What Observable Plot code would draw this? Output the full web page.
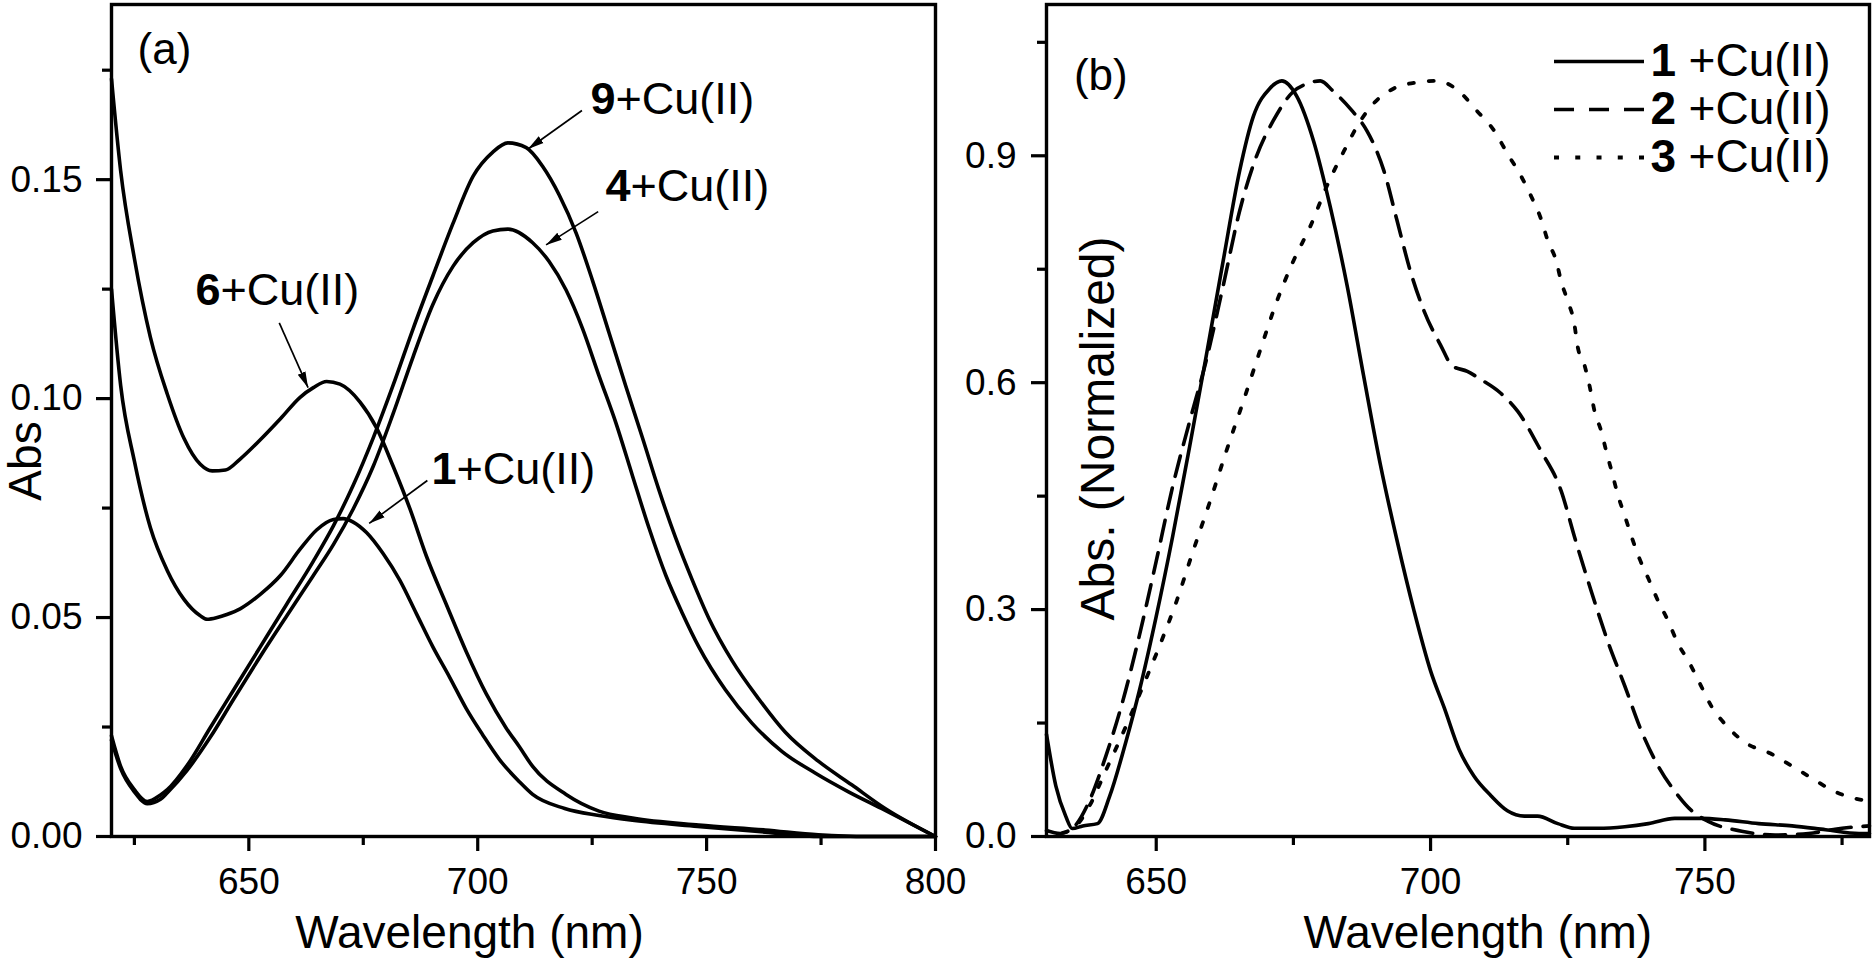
<!DOCTYPE html>
<html><head><meta charset="utf-8">
<script src="https://cdn.jsdelivr.net/npm/d3@7"></script>
<script src="https://cdn.jsdelivr.net/npm/@observablehq/plot@0.6"></script>
<style>
html,body{margin:0;padding:0;background:#fff;}
#wrap{position:relative;width:1875px;height:959px;overflow:hidden;background:#fff;}
#wrap svg{position:absolute;top:0;}
</style></head><body><div id="wrap"></div>
<script>
// ---------- Panel (a): Abs vs wavelength ----------
const wl6  = [620,622,625,628.5,632.2,635.8,639.4,642,644.9,648.1,652.5,656.9,661.2,664.1,667,669.9,674.3,677.9,681.5,685.2,688.8,693.1,697.5,701.9,706.2,709.1,712,719.3,726.5,733.8,748.3,762.8,774.4,785,800];
const abs6 = [0.173,0.152,0.132,0.114,0.101,0.091,0.085,0.0835,0.0837,0.0862,0.0906,0.0954,0.1003,0.1025,0.1039,0.1033,0.0992,0.0933,0.0846,0.0748,0.064,0.0531,0.0422,0.0325,0.0248,0.0205,0.016,0.0096,0.0058,0.0042,0.0026,0.0015,0.0004,0,0];
const wl1  = [620,622,625,628.5,632.2,635.8,639.4,640.9,643.1,645.2,648.1,652.5,656.9,661.2,664.8,668.5,670.6,672.8,675.7,679.4,683,686.6,690.2,693.9,697.5,701.1,704.8,709.1,712,719,726.5,733.8,748,762.8,775,800];
const abs1 = [0.125,0.103,0.0857,0.0705,0.0607,0.0542,0.0504,0.0496,0.05,0.0507,0.052,0.0553,0.0596,0.0656,0.07,0.0724,0.0726,0.0718,0.0694,0.0645,0.0585,0.0509,0.0433,0.0363,0.0292,0.0232,0.0175,0.0125,0.0096,0.0064,0.0048,0.0037,0.0023,0.001,0,0];
const wl9  = [620,622,625,627.8,630.7,632.2,636.5,641.6,646.7,652.5,658.3,664.1,668.5,672.8,677.2,681.5,685.9,690.2,694.6,699,703.3,706.6,710.6,714.2,717.8,721.5,725.1,728.7,732.3,736,739.6,743.2,746.9,750.5,755.6,761.4,767.2,774.4,781.7,789,800];
const abs9 = [0.023,0.016,0.0107,0.008,0.0095,0.0107,0.0162,0.0249,0.0335,0.0433,0.0531,0.0629,0.071,0.0802,0.0911,0.103,0.116,0.128,0.14,0.1508,0.1563,0.1584,0.1573,0.153,0.1465,0.1378,0.1269,0.115,0.103,0.091,0.0791,0.0683,0.0585,0.0498,0.0401,0.0314,0.0238,0.0172,0.0118,0.0064,0];
const wl4  = [620,622,625,627.8,630.7,632.2,636.5,641.6,646.7,652.5,658.3,664.1,668.5,672.8,677.2,681.5,685.9,690.2,694.6,699,703.3,706.6,712,715.6,719.3,722.9,726.5,730.2,733.8,737.4,741.1,744.7,748.3,754.1,759.9,766.5,773.7,781,788.2,800];
const abs4 = [0.022,0.0155,0.0102,0.0075,0.0085,0.01,0.0151,0.0227,0.0314,0.0411,0.0504,0.0596,0.0667,0.0748,0.0846,0.0965,0.1096,0.1215,0.1302,0.1356,0.1383,0.1387,0.1356,0.1313,0.1248,0.116,0.1052,0.0944,0.0824,0.0705,0.0596,0.051,0.0433,0.0335,0.0259,0.0194,0.0145,0.0102,0.0064,0];

// ---------- Panel (b): normalized Abs ----------
const wlS1  = [630,631.7,633.5,634.7,636.6,639.3,641.5,644.5,646.9,650,653,656.1,659.1,662.2,665.2,667.7,670.7,672.9,675.6,678.7,681.7,684.8,687.8,690.9,693.9,697,700,702.5,705.2,707.9,711,714,717.1,719.5,723.2,726.2,730.5,735.4,739.7,744.5,749.4,753.7,759.8,765.9,772,778.1,780];
const absS1 = [0.135,0.067,0.027,0.0105,0.014,0.017,0.053,0.126,0.192,0.291,0.397,0.516,0.635,0.761,0.88,0.952,0.989,0.999,0.979,0.919,0.833,0.728,0.609,0.49,0.391,0.298,0.219,0.17,0.115,0.08,0.054,0.034,0.027,0.027,0.017,0.011,0.011,0.013,0.017,0.024,0.024,0.022,0.017,0.014,0.009,0.004,0.004];
const wlS2  = [630,632.5,634.7,637.8,640.8,643.9,646.9,650,653,656.1,659.1,662.2,665.2,668.3,671.3,675,677.4,679.9,682.3,685.4,688.4,689.6,691.5,693.9,696.3,698.8,701.8,704,706.7,709,712.8,715.9,720.1,723.8,726.2,729.3,732.3,735.4,738.4,741.5,744.5,747.6,750.6,756.7,762.8,768.9,775,780];
const absS2 = [0.008,0.004,0.0105,0.047,0.106,0.179,0.265,0.364,0.463,0.549,0.629,0.728,0.827,0.9,0.946,0.985,0.995,0.999,0.985,0.962,0.933,0.916,0.88,0.814,0.748,0.695,0.65,0.622,0.615,0.605,0.586,0.562,0.51,0.457,0.397,0.324,0.258,0.199,0.14,0.093,0.06,0.034,0.02,0.007,0.002,0.004,0.011,0.014];
const wlS3  = [633,635.4,637.8,640.8,644.5,647.6,650.6,653.7,656.7,659.8,662.8,665.9,668.9,672,675,678.1,681.1,684.2,687.2,689.6,693.3,697.6,701.2,704.9,708.5,711.6,714,716.5,718.3,720.1,721.4,722.9,723.8,725,726.2,726.8,728.1,729,729.9,731.1,732,733,734.2,735.4,736.6,738.1,739.7,741.5,743.3,745.1,747,749.1,751.2,754,757.6,761.9,765.9,769.5,773.5,777.5,780];
const absS3 = [0.005,0.014,0.04,0.087,0.146,0.199,0.252,0.311,0.377,0.443,0.51,0.576,0.642,0.708,0.761,0.807,0.86,0.906,0.946,0.969,0.989,0.997,0.999,0.987,0.959,0.933,0.903,0.873,0.847,0.817,0.787,0.761,0.734,0.708,0.678,0.648,0.622,0.595,0.562,0.536,0.51,0.483,0.45,0.424,0.397,0.367,0.341,0.311,0.285,0.255,0.232,0.202,0.172,0.146,0.123,0.11,0.093,0.077,0.06,0.05,0.047];

// ---------- ticks & labels ----------
const ticksXa = [650, 700, 750, 800];
const minorXa = [625, 675, 725, 775];
const ticksYa = [0, 0.05, 0.10, 0.15];
const minorYa = [0.025, 0.075, 0.125, 0.175];
const ticksXb = [650, 700, 750];
const minorXb = [675, 725, 775];
const ticksYb = [0, 0.3, 0.6, 0.9];
const minorYb = [0.15, 0.45, 0.75, 1.05];
const annoNums = ["6", "1", "9", "4"];
const annoRest = "+Cu(II)";
const legendNums = ["1", "2", "3"];
const legendRest = "+Cu(II)";
const xTitle = "Wavelength (nm)";
const yTitleA = "Abs";
const yTitleB = "Abs. (Normalized)";

// ---------- layout / placement / styles (not data) ----------
const FONT = "'Liberation Sans', Arial, Helvetica, sans-serif";
const LW = 3.6;
const DASH = "21,12", DOT = "5,15";
const annoPos = [
  {x: 638.35, y: 0.1213, ax1: 656.65, ay1: 0.1173, ax2: 662.94, ay2: 0.1025},
  {x: 689.9,  y: 0.0804, ax1: 689.0,  ay1: 0.0813, ax2: 676.29, ay2: 0.0715},
  {x: 724.63, y: 0.1651, ax1: 722.77, ay1: 0.1658, ax2: 711.0,  ay2: 0.1570},
  {x: 727.91, y: 0.1452, ax1: 726.31, ay1: 0.1427, ax2: 714.93, ay2: 0.1351}
];
const legendPos = [1.0246, 0.9611, 0.8977];

function arrowHead(color, context) {
  const m = d3.select(context.document.createElementNS("http://www.w3.org/2000/svg", "marker"))
    .attr("viewBox", "-16 -5 16 10")
    .attr("markerWidth", 16).attr("markerHeight", 10)
    .attr("markerUnits", "userSpaceOnUse")
    .attr("orient", "auto").attr("refX", 0).attr("refY", 0);
  m.append("path").attr("d", "M-16,-4.2L0,0L-16,4.2Z").attr("fill", color).attr("stroke", "none");
  return m.node();
}

function zipXY(xs, ys) { return xs.map((x, i) => ({x, y: ys[i]})); }

const common = {
  height: 959, marginTop: 4, marginBottom: 123,
  style: {fontFamily: FONT, background: "transparent", overflow: "visible", color: "black"}
};
const lineOpts = {x: "x", y: "y", stroke: "black", strokeWidth: LW, curve: "monotone-x"};

// ---------- Panel a ----------
const annoA = annoPos.map((p, i) => ({...p, n: annoNums[i]}));
const plotA = Plot.plot({
  ...common,
  width: 940, marginLeft: 111, marginRight: 5,
  x: {domain: [620, 800], axis: null},
  y: {domain: [0, 0.19], axis: null},
  marks: [
    Plot.line(zipXY(wl6, abs6), lineOpts),
    Plot.line(zipXY(wl1, abs1), lineOpts),
    Plot.line(zipXY(wl9, abs9), lineOpts),
    Plot.line(zipXY(wl4, abs4), lineOpts),
    Plot.axisX({ticks: minorXa, tickSize: 9, fill: "none", strokeWidth: 3.2, label: null}),
    Plot.axisY({ticks: minorYa, tickSize: 9, fill: "none", strokeWidth: 3.2, label: null}),
    Plot.axisX({ticks: ticksXa, tickSize: 15, tickPadding: 16, strokeWidth: 3.2, fontSize: 37, fill: "black", tickFormat: d3.format("d"), label: null}),
    Plot.axisY({ticks: ticksYa, tickSize: 15, tickPadding: 14, strokeWidth: 3.2, fontSize: 37, fill: "black", tickFormat: d3.format(".2f"), label: null}),
    Plot.frame({strokeWidth: 3.4}),
    Plot.link(annoA, {x1: "ax1", y1: "ay1", x2: "ax2", y2: "ay2", stroke: "black", strokeWidth: 1.7, markerEnd: arrowHead}),
    Plot.text(annoA, {x: "x", y: "y", text: "n", textAnchor: "start", lineAnchor: "bottom", fontSize: 45, fontWeight: "bold", fill: "black"}),
    Plot.text(annoA, {x: "x", y: "y", text: () => annoRest, dx: 25, textAnchor: "start", lineAnchor: "bottom", fontSize: 45, fill: "black"}),
    Plot.text(["(a)"], {x: [625.7], y: [0.1765], text: d => d, textAnchor: "start", lineAnchor: "bottom", fontSize: 44, fill: "black"}),
    Plot.text([xTitle], {x: [698.2], text: d => d, frameAnchor: "bottom", dy: 111, lineAnchor: "bottom", fontSize: 46, fill: "black"}),
    Plot.text([yTitleA], {y: [0.0767], text: d => d, frameAnchor: "left", dx: -85, rotate: -90, lineAnchor: "middle", fontSize: 46, fill: "black"})
  ]
});
plotA.style.left = "0px";

// ---------- Panel b ----------
const legendB = legendNums.map((n, i) => ({n, y: legendPos[i], x1: 722.5, x2: 738.9, xt: 740.1}));
const plotB = Plot.plot({
  ...common,
  width: 935, marginLeft: 106, marginRight: 6,
  x: {domain: [630, 780], axis: null},
  y: {domain: [0, 1.1], axis: null},
  marks: [
    Plot.line(zipXY(wlS1, absS1), lineOpts),
    Plot.line(zipXY(wlS2, absS2), {...lineOpts, strokeDasharray: DASH}),
    Plot.line(zipXY(wlS3, absS3), {...lineOpts, strokeWidth: 3.8, strokeDasharray: DOT}),
    Plot.axisX({ticks: minorXb, tickSize: 9, fill: "none", strokeWidth: 3.2, label: null}),
    Plot.axisY({ticks: minorYb, tickSize: 9, fill: "none", strokeWidth: 3.2, label: null}),
    Plot.axisX({ticks: ticksXb, tickSize: 15, tickPadding: 16, strokeWidth: 3.2, fontSize: 37, fill: "black", tickFormat: d3.format("d"), label: null}),
    Plot.axisY({ticks: ticksYb, tickSize: 15, tickPadding: 15, strokeWidth: 3.2, fontSize: 37, fill: "black", tickFormat: d3.format(".1f"), label: null}),
    Plot.frame({strokeWidth: 3.4}),
    Plot.link([legendB[0]], {x1: "x1", x2: "x2", y1: "y", y2: "y", stroke: "black", strokeWidth: LW}),
    Plot.link([legendB[1]], {x1: "x1", x2: "x2", y1: "y", y2: "y", stroke: "black", strokeWidth: LW, strokeDasharray: "20,15"}),
    Plot.link([legendB[2]], {x1: "x1", x2: "x2", y1: "y", y2: "y", stroke: "black", strokeWidth: 3.8, strokeDasharray: "5,16.25"}),
    Plot.text(legendB, {x: "xt", y: "y", text: "n", textAnchor: "start", lineAnchor: "middle", fontSize: 46, fontWeight: "bold", fill: "black"}),
    Plot.text(legendB, {x: "xt", y: "y", text: () => legendRest, dx: 38, textAnchor: "start", lineAnchor: "middle", fontSize: 46, fill: "black"}),
    Plot.text(["(b)"], {x: [635.0], y: [0.9876], text: d => d, textAnchor: "start", lineAnchor: "bottom", fontSize: 44, fill: "black"}),
    Plot.text([xTitle], {x: [708.6], text: d => d, frameAnchor: "bottom", dy: 111, lineAnchor: "bottom", fontSize: 46, fill: "black"}),
    Plot.text([yTitleB], {x: [639.5], y: [0.5394], text: d => d, rotate: -90, lineAnchor: "middle", fontSize: 48, fill: "black"})
  ]
});
plotB.style.left = "940px";

const wrap = document.getElementById("wrap");
wrap.appendChild(plotA);
wrap.appendChild(plotB);
</script></body></html>
